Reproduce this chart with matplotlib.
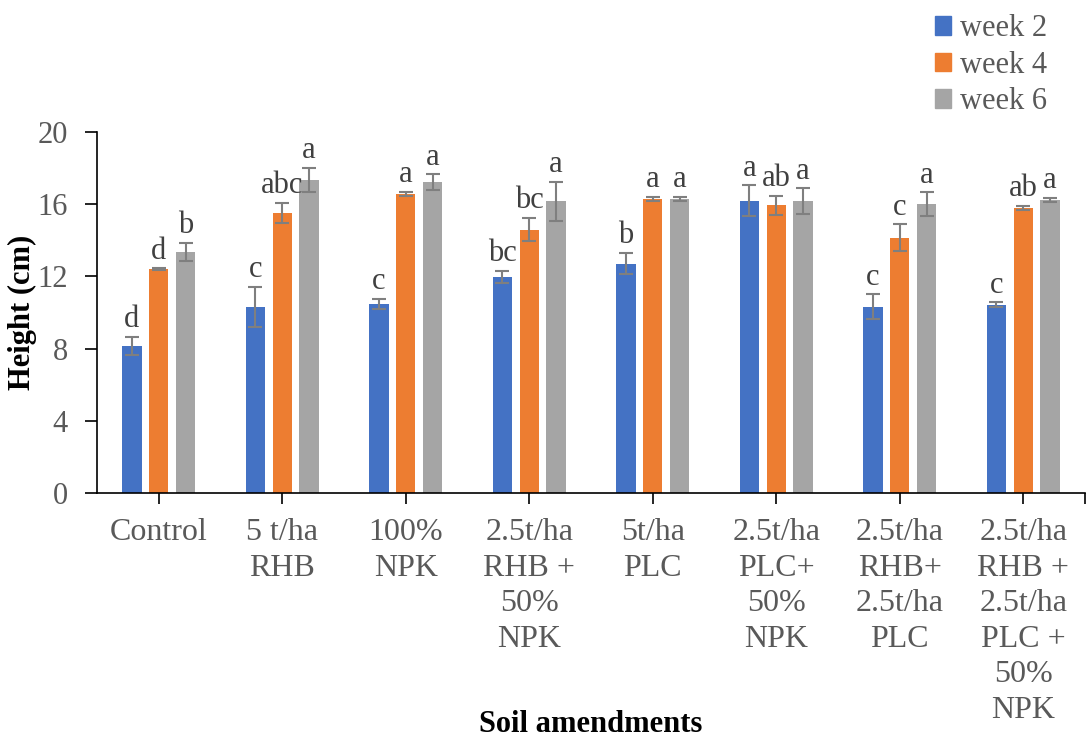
import matplotlib
matplotlib.use("Agg")
import matplotlib.pyplot as plt
import numpy as np
from matplotlib.patches import Patch

plt.rcParams['font.family'] = ['Liberation Serif', 'DejaVu Serif']

categories = ["Control", "5 t/ha\nRHB", "100%\nNPK", "2.5t/ha\nRHB +\n50%\nNPK",
              "5t/ha\nPLC", "2.5t/ha\nPLC+\n50%\nNPK", "2.5t/ha\nRHB+\n2.5t/ha\nPLC",
              "2.5t/ha\nRHB +\n2.5t/ha\nPLC +\n50%\nNPK"]
series = ["week 2", "week 4", "week 6"]
week2 = [8.16, 10.29, 10.47, 11.97, 12.71, 16.18, 10.32, 10.42]
week4 = [12.39, 15.53, 16.58, 14.59, 16.29, 15.94, 14.15, 15.79]
week6 = [13.37, 17.34, 17.23, 16.16, 16.29, 16.16, 15.99, 16.22]
err2 = [0.50, 1.12, 0.28, 0.33, 0.59, 0.86, 0.69, 0.14]
err4 = [0.05, 0.56, 0.12, 0.65, 0.13, 0.53, 0.73, 0.12]
err6 = [0.50, 0.66, 0.42, 1.08, 0.12, 0.71, 0.66, 0.12]
letters2 = ["d", "c", "c", "bc", "b", "a", "c", "c"]
letters4 = ["d", "abc", "a", "bc", "a", "ab", "c", "ab"]
letters6 = ["b", "a", "a", "a", "a", "a", "a", "a"]

colors = ["#4472C4", "#ED7D31", "#A5A5A5"]

fig = plt.figure(figsize=(10.9, 7.42), dpi=100)
ax = fig.add_axes([97/1090, 1-493/742, (1085-97)/1090, (493-132)/742])

x = np.arange(len(categories))
width = 0.157
offset = 0.218
vals = [week2, week4, week6]
errs = [err2, err4, err6]
lets = [letters2, letters4, letters6]
for i in range(3):
    xi = x + (i-1)*offset
    ax.bar(xi, vals[i], width, color=colors[i], label=series[i], zorder=2)
    ax.errorbar(xi, vals[i], yerr=errs[i], fmt='none', ecolor='#7F7F7F',
                elinewidth=1.5, capsize=5, capthick=1.5, zorder=3)
    for xx, v, e, l in zip(xi, vals[i], errs[i], lets[i]):
        ax.annotate(l, (xx, v+e), xytext=(0, 7), textcoords='offset points',
                    ha='center', va='baseline', fontsize=22, color='#404040')

ax.set_xlim(-0.5, 7.5)
ax.set_ylim(0, 20)
ax.set_yticks([0, 4, 8, 12, 16, 20])
ax.set_xticks(list(x) + [7.5])
ax.set_xticklabels(categories + [""], fontsize=23, color='#595959', linespacing=1.3)
ax.tick_params(axis='y', labelsize=22, labelcolor='#595959', length=9, width=1.2, direction='out', pad=12)
ax.tick_params(axis='x', length=8, width=1.2, direction='out', pad=10)
for s in ['top', 'right']:
    ax.spines[s].set_visible(False)
ax.spines['left'].set_linewidth(1.2)
ax.spines['bottom'].set_linewidth(1.2)

ax.set_ylabel("Height (cm)", fontsize=22, fontweight='bold', color='black')
ax.yaxis.set_label_coords(-(97-37)/988, 0.5)
fig.text(591/1090, 1-725/742, "Soil amendments", fontsize=22, fontweight='bold',
         ha='center', va='center')

handles = [Patch(color=c) for c in colors]
leg = fig.legend(handles, series, loc='upper left', bbox_to_anchor=(907/1090, 1.018),
                 frameon=False, fontsize=22, handlelength=0.55, handleheight=0.55,
                 handletextpad=0.3, labelspacing=0.25, labelcolor='#595959')

fig.savefig("out.png", dpi=100)
